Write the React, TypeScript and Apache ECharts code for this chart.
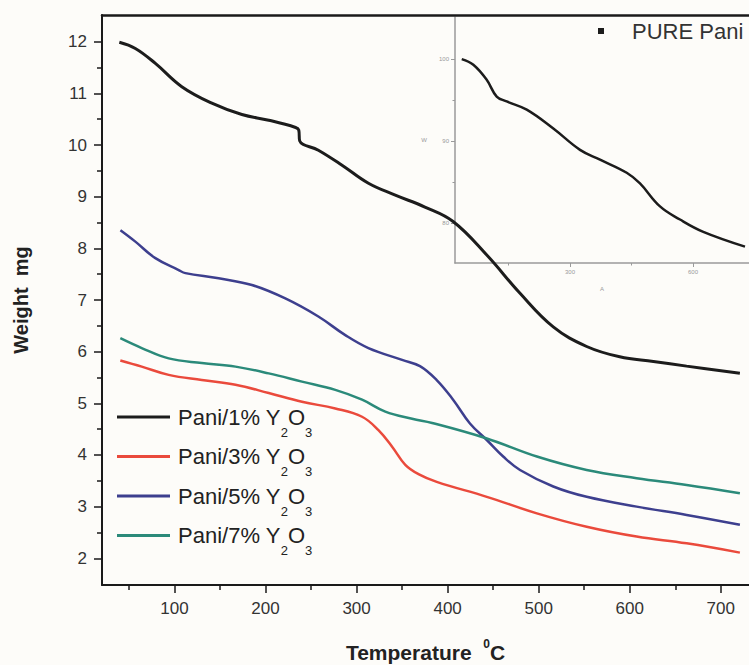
import React, { useEffect, useRef } from 'react';
import * as echarts from 'echarts';

const FONT = '"Liberation Sans", Arial, Helvetica, sans-serif';

// ---- data (temperature °C, weight mg) ----
const seriesNames = ['Pani/1% Y2O3', 'Pani/3% Y2O3', 'Pani/5% Y2O3', 'Pani/7% Y2O3'];
const seriesColors = ['#1c1c1c', '#ea4a3c', '#3d3f8e', '#2b8a7a'];

const pani1: [number, number][] = [
  [39.4, 11.99], [57, 11.87], [79, 11.58], [108, 11.13], [141, 10.81], [174, 10.59],
  [203.5, 10.48], [233, 10.34], [236.5, 10.29], [237.5, 10.08], [258, 9.9], [284, 9.61],
  [313, 9.26], [342.5, 9.03], [375, 8.8], [406, 8.52], [443, 7.87], [479.5, 7.13],
  [516, 6.48], [552.7, 6.1], [589, 5.9], [626, 5.81], [662.5, 5.72], [721, 5.58],
];
const pani3: [number, number][] = [
  [40.5, 5.83], [64, 5.71], [93.6, 5.55], [130, 5.45], [167, 5.36], [203.5, 5.2],
  [240, 5.03], [276.6, 4.9], [306, 4.74], [324, 4.48], [339, 4.16], [353.5, 3.81],
  [368, 3.63], [388, 3.48], [443, 3.19], [498, 2.87], [552.7, 2.61], [607.6, 2.42],
  [662.5, 2.29], [721, 2.11],
];
const pani5: [number, number][] = [
  [40.6, 8.35], [57, 8.13], [79, 7.81], [104.6, 7.58], [112, 7.52], [148.5, 7.42],
  [185, 7.29], [221.7, 7.03], [258, 6.68], [287.6, 6.32], [313, 6.07], [350, 5.84],
  [369.6, 5.72], [388, 5.45], [406, 5.07], [424.5, 4.61], [443, 4.29], [461, 3.97],
  [479.5, 3.71], [516, 3.39], [552.7, 3.19], [607.6, 3.0], [662.5, 2.84], [721, 2.65],
];
const pani7: [number, number][] = [
  [40.5, 6.26], [64, 6.07], [93.6, 5.87], [130, 5.78], [167, 5.71], [203.5, 5.58],
  [240, 5.42], [276.6, 5.26], [306, 5.07], [331.5, 4.84], [361, 4.7], [383, 4.62],
  [443, 4.32], [498, 3.97], [552.7, 3.71], [607.6, 3.55], [662.5, 3.42], [721, 3.26],
];
const seriesData = [pani1, pani3, pani5, pani7];

// inset: pure Pani (temperature, weight %)
const insetName = 'PURE Pani';
const purePani: [number, number][] = [
  [35.9, 99.96], [64.2, 99.27], [96.8, 97.44], [121.2, 95.4], [145.6, 94.8], [194.4, 93.8],
  [259.3, 91.5], [324.4, 88.9], [373.2, 87.7], [438.3, 86.1], [470.7, 84.8], [519.5, 82.0],
  [568.3, 80.4], [625.1, 78.9], [726.8, 77.1],
];

// ticks
const xMajor = [100, 200, 300, 400, 500, 600, 700];
const xMinor = [50, 150, 250, 350, 450, 550, 650];
const yMajor = [2, 3, 4, 5, 6, 7, 8, 9, 10, 11, 12];
const yMinor = [2.5, 3.5, 4.5, 5.5, 6.5, 7.5, 8.5, 9.5, 10.5, 11.5];
const insetXMajor = [300, 600];
const insetXMinor = [150, 450];
const insetYMajor = [80, 90, 100];
const insetYMinor = [85, 95];

const AX = '#1a1a1a';
const INSET_AX = '#9a9a9a';

function legendLabel(name: string): string {
  const base = name.replace(/Y2O3$/, '');
  return `{b|${base}Y}{s|2}{b|O}{s|3}`;
}

export default function App() {
  const ref = useRef<HTMLDivElement>(null);
  useEffect(() => {
    if (!ref.current) return;
    const chart = echarts.init(ref.current, undefined, { renderer: 'svg' });
    const mainX = { min: 20.37, max: 731 };
    const mainY = { min: 1.483, max: 12.517 };
    const insX = { min: 19.5, max: 736.6 };
    const insY = { min: 75.1, max: 105.1 };
    const option: any = {
      animation: false,
      backgroundColor: '#fdfcf9',
      textStyle: { fontFamily: FONT },
      grid: [
        { left: 102, top: 15, width: 647, height: 570, outerBoundsMode: 'none', containLabel: false },
        { left: 455, top: 17, width: 294, height: 246, outerBoundsMode: 'none', containLabel: false },
      ],
      xAxis: [
        {
          gridIndex: 0, type: 'value', position: 'bottom', ...mainX,
          axisLine: { show: true, onZero: false, lineStyle: { color: AX, width: 2 } },
          axisTick: { show: true, customValues: xMajor, length: 8, lineStyle: { color: AX, width: 1.5 } },
          axisLabel: { customValues: xMajor, margin: 15, fontSize: 17, color: '#333', fontFamily: FONT },
          splitLine: { show: false },
          name: '{t|Temperature  }{sup|0}{t|C}',
          nameLocation: 'middle',
          nameGap: 53,
          nameTextStyle: {
            rich: {
              t: { fontSize: 21, fontWeight: 'bold', color: '#222', fontFamily: FONT },
              sup: { fontSize: 12, fontWeight: 'bold', color: '#222', padding: [0, 0, 16, 0], fontFamily: FONT },
            },
          },
        },
        {
          gridIndex: 0, type: 'value', position: 'bottom', ...mainX,
          axisLine: { show: false, onZero: false },
          axisTick: { show: true, customValues: xMinor, length: 5, lineStyle: { color: AX, width: 1.5 } },
          axisLabel: { show: false },
          splitLine: { show: false },
        },
        {
          gridIndex: 0, type: 'value', position: 'top', ...mainX,
          axisLine: { show: true, onZero: false, lineStyle: { color: AX, width: 2.5 } },
          axisTick: { show: false }, axisLabel: { show: false }, splitLine: { show: false },
        },
        {
          gridIndex: 1, type: 'value', position: 'bottom', ...insX,
          axisLine: { show: true, onZero: false, lineStyle: { color: INSET_AX, width: 1.5 } },
          axisTick: { show: true, customValues: insetXMajor, length: 4, lineStyle: { color: INSET_AX, width: 1 } },
          axisLabel: { customValues: insetXMajor, margin: 6, fontSize: 6, color: '#999' },
          splitLine: { show: false },
          name: 'A', nameLocation: 'middle', nameGap: 23,
          nameTextStyle: { fontSize: 6, color: '#999' },
        },
        {
          gridIndex: 1, type: 'value', position: 'bottom', ...insX,
          axisLine: { show: false, onZero: false },
          axisTick: { show: true, customValues: insetXMinor, length: 2.5, lineStyle: { color: INSET_AX, width: 1 } },
          axisLabel: { show: false }, splitLine: { show: false },
        },
      ],
      yAxis: [
        {
          gridIndex: 0, type: 'value', position: 'left', ...mainY,
          axisLine: { show: true, onZero: false, lineStyle: { color: AX, width: 2 } },
          axisTick: { show: true, customValues: yMajor, length: 8, lineStyle: { color: AX, width: 1.5 } },
          axisLabel: { customValues: yMajor, margin: 15, fontSize: 17, color: '#333', fontFamily: FONT },
          splitLine: { show: false },
          name: 'Weight  mg', nameLocation: 'middle', nameGap: 71, nameRotate: 90,
          nameTextStyle: { fontSize: 20, fontWeight: 'bold', color: '#222', fontFamily: FONT },
        },
        {
          gridIndex: 0, type: 'value', position: 'left', ...mainY,
          axisLine: { show: false, onZero: false },
          axisTick: { show: true, customValues: yMinor, length: 5, lineStyle: { color: AX, width: 1.5 } },
          axisLabel: { show: false }, splitLine: { show: false },
        },
        {
          gridIndex: 1, type: 'value', position: 'left', ...insY,
          axisLine: { show: true, onZero: false, lineStyle: { color: INSET_AX, width: 1.5 } },
          axisTick: { show: true, customValues: insetYMajor, length: 4, lineStyle: { color: INSET_AX, width: 1 } },
          axisLabel: { customValues: insetYMajor, margin: 6, fontSize: 6, color: '#999' },
          splitLine: { show: false },
          name: 'W', nameLocation: 'middle', nameGap: 28, nameRotate: 0,
          nameTextStyle: { fontSize: 6, color: '#999' },
        },
        {
          gridIndex: 1, type: 'value', position: 'left', ...insY,
          axisLine: { show: false, onZero: false },
          axisTick: { show: true, customValues: insetYMinor, length: 2.5, lineStyle: { color: INSET_AX, width: 1 } },
          axisLabel: { show: false }, splitLine: { show: false },
        },
      ],
      legend: [
        {
          data: seriesNames,
          orient: 'vertical',
          left: 117,
          top: 406,
          padding: 0,
          icon: 'rect',
          itemWidth: 53,
          itemHeight: 3,
          itemGap: 7,
          formatter: legendLabel,
          textStyle: {
            padding: [0, 0, 0, 3],
            rich: {
              b: { fontSize: 22, color: '#222', fontFamily: FONT },
              s: { fontSize: 13, color: '#222', padding: [30, 0, 0, 0], fontFamily: FONT },
            },
          },
        },
        {
          data: [insetName],
          left: 598,
          top: 20,
          padding: 0,
          icon: 'rect',
          itemWidth: 6,
          itemHeight: 6,
          textStyle: { fontSize: 22, color: '#333', padding: [0, 0, 0, 23], fontFamily: FONT },
        },
      ],
      series: [
        ...seriesNames.map((name, i) => ({
          name,
          type: 'line',
          xAxisIndex: 0,
          yAxisIndex: 0,
          data: seriesData[i],
          symbol: 'none',
          smooth: 0.4,
          lineStyle: { color: seriesColors[i], width: i === 0 ? 3 : 2.5 },
          itemStyle: { color: seriesColors[i] },
          z: 3,
        })),
        {
          name: insetName,
          type: 'line',
          xAxisIndex: 3,
          yAxisIndex: 2,
          data: purePani,
          symbol: 'none',
          smooth: 0.4,
          lineStyle: { color: '#1c1c1c', width: 2.5 },
          itemStyle: { color: '#1c1c1c' },
          z: 2,
        },
      ],
    };
    chart.setOption(option);
    return () => chart.dispose();
  }, []);
  return (
    <div
      ref={ref}
      style={{ position: 'fixed', left: 0, top: 0, width: 749, height: 665, background: '#fdfcf9' }}
    />
  );
}
